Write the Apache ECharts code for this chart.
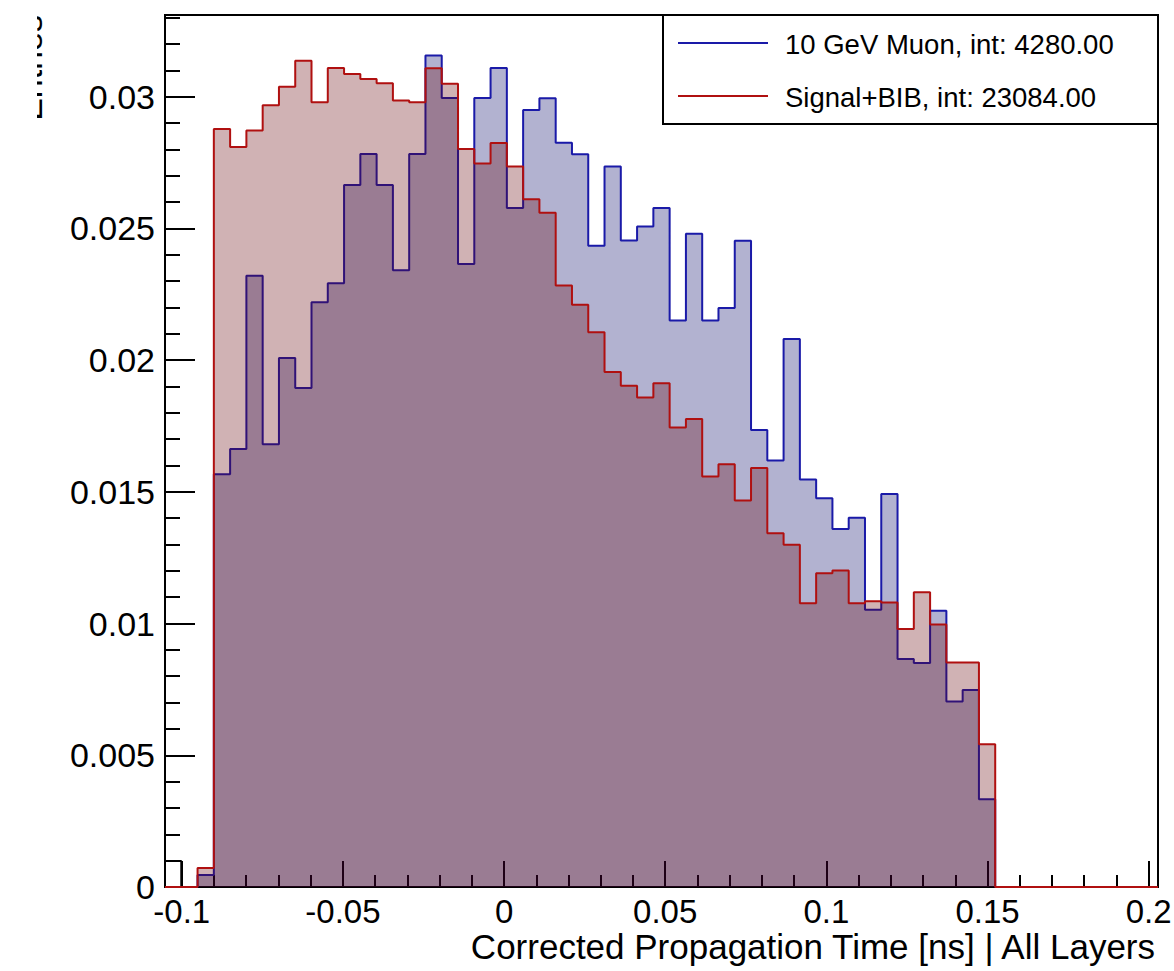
<!DOCTYPE html>
<html>
<head>
<meta charset="utf-8">
<script src="https://cdn.jsdelivr.net/npm/echarts@6/dist/echarts.min.js"></script>
<style>
html,body{margin:0;padding:0;background:#fff;}
#chart{width:1174px;height:971px;}
</style>
</head>
<body>
<div id="chart"></div>
<script>
// Histogram binning (61 bins across the x range)
const xMin = -0.1052;
const xMax = 0.2029;
const nBins = 61;

// 10 GeV Muon (blue), normalized entries per bin
const muonValues = [
  0, 0, 0.00046, 0.01567, 0.01663, 0.02320, 0.01681, 0.02008, 0.01894, 0.02220,
  0.02292, 0.02665, 0.02782, 0.02665, 0.02341, 0.02782, 0.03156, 0.02995, 0.02365, 0.02995,
  0.03109, 0.02577, 0.02949, 0.02994, 0.02825, 0.02781, 0.02434, 0.02735, 0.02454, 0.02507,
  0.02577, 0.02150, 0.02480, 0.02150, 0.02198, 0.02453, 0.01735, 0.01619, 0.02080, 0.01547,
  0.01476, 0.01359, 0.01402, 0.01052, 0.01492, 0.00865, 0.00850, 0.01049, 0.00704, 0.00748,
  0.00333, 0, 0, 0, 0, 0, 0, 0, 0, 0, 0
];

// Signal+BIB (red), normalized entries per bin
const bibValues = [
  0, 0, 0.00072, 0.02877, 0.02809, 0.02872, 0.02967, 0.03038, 0.03136, 0.02979,
  0.03109, 0.03086, 0.03067, 0.03051, 0.02985, 0.02979, 0.03108, 0.03049, 0.02801, 0.02746,
  0.02824, 0.02735, 0.02611, 0.02559, 0.02283, 0.02210, 0.02106, 0.01955, 0.01903, 0.01858,
  0.01912, 0.01744, 0.01776, 0.01558, 0.01605, 0.01467, 0.01590, 0.01343, 0.01299, 0.01077,
  0.01191, 0.01201, 0.01077, 0.01085, 0.01080, 0.00979, 0.01119, 0.00996, 0.00852, 0.00852,
  0.00542, 0, 0, 0, 0, 0, 0, 0, 0, 0, 0
];

// Small black-outlined bin in the first position
const blackValues = [0.00099];

const legendLabels = ['10 GeV Muon, int: 4280.00', 'Signal+BIB, int: 23084.00'];
const xTitle = 'Corrected Propagation Time [ns] | All Layers';
const yTitle = 'Entries';

const binWidth = (xMax - xMin) / nBins;
function stepPoints(vals) {
  const pts = vals.map((v, i) => [xMin + i * binWidth, v]);
  pts.push([xMin + vals.length * binWidth, 0]);
  return pts;
}

const FONT = '"Liberation Sans", Arial, Helvetica, sans-serif';
const chart = echarts.init(document.getElementById('chart'), null, {renderer: 'svg'});

const option = {
  animation: false,
  backgroundColor: '#ffffff',
  grid: {left: 165, top: 15, right: 16, bottom: 84, containLabel: false, outerBoundsMode: 'none',
         show: true, borderColor: '#000', borderWidth: 2, backgroundColor: 'transparent'},
  xAxis: {
    type: 'value', min: xMin, max: xMax, splitNumber: 6,
    axisLine: {show: true, onZero: false, lineStyle: {color: '#000', width: 2}},
    axisTick: {show: true, inside: true, length: 26, lineStyle: {color: '#000', width: 2}},
    minorTick: {show: true, splitNumber: 5, length: 12, lineStyle: {color: '#000', width: 2}},
    axisLabel: {color: '#000', fontSize: 33, fontFamily: FONT, margin: 8, showMinLabel: false, showMaxLabel: false},
    splitLine: {show: false}, minorSplitLine: {show: false}
  },
  yAxis: {
    type: 'value', min: 0, max: 0.0331, interval: 0.005,
    axisLine: {show: true, onZero: false, lineStyle: {color: '#000', width: 2}},
    axisTick: {show: true, inside: true, length: 30, lineStyle: {color: '#000', width: 2}},
    minorTick: {show: true, splitNumber: 5, length: 15, lineStyle: {color: '#000', width: 2}},
    axisLabel: {color: '#000', fontSize: 34, fontFamily: FONT, margin: 10, showMaxLabel: false},
    splitLine: {show: false}, minorSplitLine: {show: false}
  },
  series: [
    {
      type: 'line', step: 'end', symbol: 'none', silent: true,
      data: stepPoints(blackValues),
      lineStyle: {color: '#000', width: 2}, z: 1
    },
    {
      name: legendLabels[0], type: 'line', step: 'end', symbol: 'none', silent: true,
      data: stepPoints(muonValues),
      lineStyle: {color: '#1a1aa8', width: 2},
      areaStyle: {color: 'rgba(0,0,98,0.3)', opacity: 1}, z: 2
    },
    {
      name: legendLabels[1], type: 'line', step: 'end', symbol: 'none', silent: true,
      data: stepPoints(bibValues),
      lineStyle: {color: '#b01010', width: 2},
      areaStyle: {color: 'rgba(98,0,5,0.3)', opacity: 1}, z: 3
    }
  ],
  graphic: [
    {type: 'text', x: 47, y: 15, rotation: Math.PI / 2, z: 10,
     style: {text: yTitle, fill: '#000', font: '34px ' + FONT, textAlign: 'right', textVerticalAlign: 'bottom'}},
    {type: 'rect', shape: {x: 0, y: 0, width: 37, height: 140}, style: {fill: '#fff'}, z: 11},
    {type: 'text', x: 1155, y: 946, z: 10,
     style: {text: xTitle, fill: '#000', font: '35px ' + FONT, textAlign: 'right', textVerticalAlign: 'middle'}},
    {type: 'rect', shape: {x: 663, y: 15, width: 495, height: 109}, style: {fill: '#fff', stroke: '#000', lineWidth: 2}, z: 20},
    {type: 'line', shape: {x1: 678, y1: 43, x2: 768, y2: 43}, style: {stroke: '#1a1aa8', lineWidth: 2}, z: 21},
    {type: 'line', shape: {x1: 678, y1: 96, x2: 768, y2: 96}, style: {stroke: '#b01010', lineWidth: 2}, z: 21},
    {type: 'text', x: 785, y: 44, z: 21,
     style: {text: legendLabels[0], fill: '#000', font: '27.5px ' + FONT, textAlign: 'left', textVerticalAlign: 'middle'}},
    {type: 'text', x: 785, y: 97, z: 21,
     style: {text: legendLabels[1], fill: '#000', font: '27.5px ' + FONT, textAlign: 'left', textVerticalAlign: 'middle'}}
  ]
};
chart.setOption(option);
</script>
</body>
</html>
